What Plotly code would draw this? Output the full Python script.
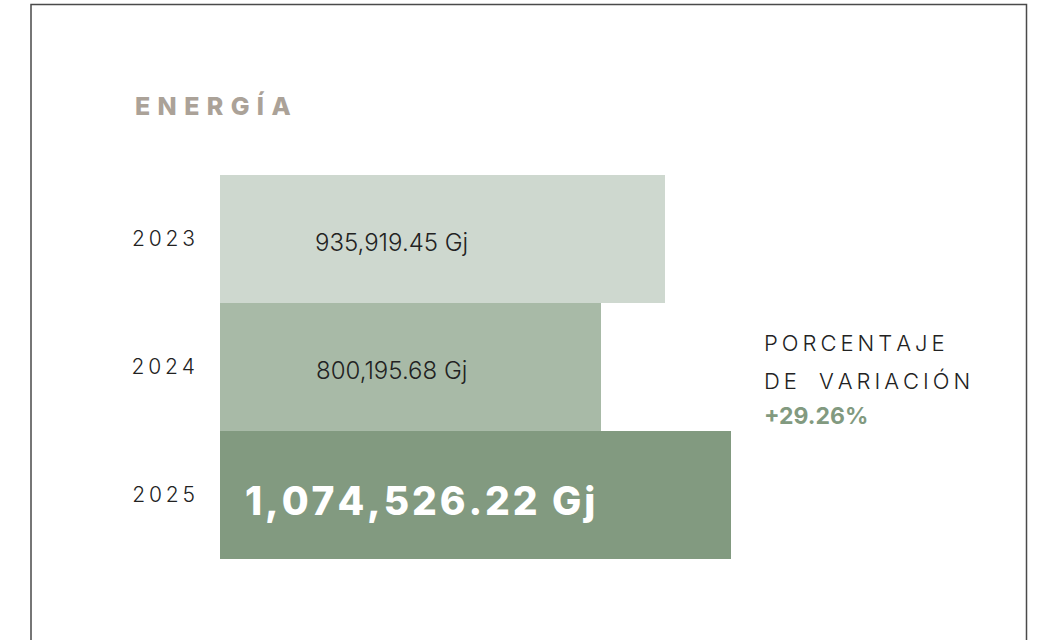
import plotly.graph_objects as go

years = ["2023", "2024", "2025"]
energy_gj = [935919.45, 800195.68, 1074526.22]
value_labels = ["935,919.45 Gj", "800,195.68 Gj", "1,074,526.22 Gj"]
bar_colors = ["#CED8CF", "#A8BAA7", "#829A80"]
variation_pct = 29.26

THIN = "\u2009"
HAIR = "\u200a"


def spaced(s, sep=THIN):
    return sep.join(list(s))


fig = go.Figure()
fig.add_trace(go.Bar(
    x=energy_gj,
    y=years,
    orientation="h",
    marker=dict(color=bar_colors, line=dict(width=0)),
    hoverinfo="x+y",
))

# value labels (y = category index)
for i, lab in enumerate(value_labels):
    if i == len(years) - 1:
        fig.add_annotation(x=0.045, xref="paper", y=i, yref="y", text=spaced(lab, HAIR),
                           xanchor="left", yanchor="middle", showarrow=False, yshift=-5,
                           font=dict(family="Inter", size=39, color="white", weight=800))
    else:
        fig.add_annotation(x=0.335, xref="paper", y=i, yref="y", text=lab,
                           xanchor="center", yanchor="middle", showarrow=False, yshift=-3,
                           font=dict(family="Inter", size=24, color="#222222", weight=300))

fig.add_annotation(x=(133 - 220) / 511, xref="paper", y=1.18, yref="paper",
                   text=spaced("ENERGÍA", THIN * 2),
                   xanchor="left", yanchor="middle", showarrow=False,
                   font=dict(family="Inter", size=25, color="#ABA298", weight=800))

side_x = (762 - 220) / 511
fig.add_annotation(x=side_x, xref="paper", y=0.5625, yref="paper", text=spaced("PORCENTAJE"),
                   xanchor="left", yanchor="middle", showarrow=False,
                   font=dict(family="Inter", size=22, color="#222222", weight=300))
fig.add_annotation(x=side_x, xref="paper", y=0.4635, yref="paper",
                   text="\u2003".join(spaced(w) for w in "DE VARIACIÓN".split(" ")),
                   xanchor="left", yanchor="middle", showarrow=False,
                   font=dict(family="Inter", size=22, color="#222222", weight=300))
fig.add_annotation(x=side_x, xref="paper", y=0.372, yref="paper", text=f"+{variation_pct:.2f}%",
                   xanchor="left", yanchor="middle", showarrow=False,
                   font=dict(family="Inter", size=23, color="#829A80", weight=700))

# outer frame
fig.add_shape(type="rect", xref="paper", yref="paper",
              x0=(31 - 220) / 511, x1=(1026.5 - 220) / 511,
              y0=-0.4, y1=(559 - 4.5) / 384,
              line=dict(color="#4a4a4a", width=1.5), fillcolor="rgba(0,0,0,0)")

fig.update_layout(
    width=1039, height=640,
    margin=dict(l=220, r=308, t=175, b=81),
    paper_bgcolor="white", plot_bgcolor="white",
    bargap=0,
    showlegend=False,
    xaxis=dict(range=[0, max(energy_gj)], visible=False, fixedrange=True),
    yaxis=dict(type="category", categoryorder="array", categoryarray=years,
               range=[len(years) - 0.5, -0.5], showgrid=False, zeroline=False,
               showline=False, ticks="", tickmode="array", tickvals=years,
               ticktext=[spaced(y) for y in years], ticklabelstandoff=24,
               tickfont=dict(family="Inter", size=21, color="#222222", weight=300)),
)

fig.write_html("out.html", config={"displayModeBar": False},
               post_script="document.body.style.margin='0';")
